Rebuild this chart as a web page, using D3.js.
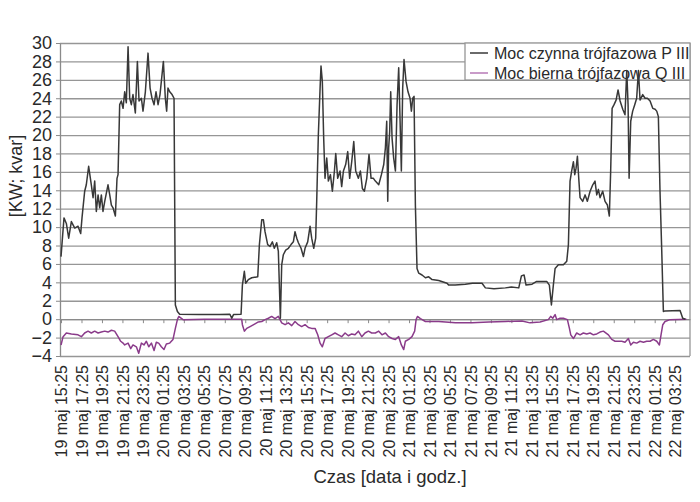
<!DOCTYPE html>
<html>
<head>
<meta charset="utf-8">
<script src="https://cdn.jsdelivr.net/npm/d3@7"></script>
<style>
  body { margin: 0; background: #fff; }
  svg { font-family: "Liberation Sans", Arial, sans-serif; }
</style>
</head>
<body>
<svg id="chart" width="700" height="502"></svg>
<script>
// hours since 19 maj 15:25
const hoursP = [0, 0.29, 0.52, 0.75, 1.01, 1.34, 1.66, 1.92, 2.05, 2.31, 2.47, 2.70, 2.96, 3.13, 3.29, 3.45, 3.62, 3.78, 3.94, 4.10, 4.27, 4.59, 4.76, 4.92, 5.08, 5.31, 5.47, 5.57,
  5.73, 5.89, 6.06, 6.22, 6.38, 6.55, 6.71, 6.87, 7.03, 7.26, 7.46, 7.62, 7.85, 8.01, 8.24, 8.50, 8.70, 8.89, 9.09, 9.28, 9.48, 9.67, 10.0, 10.19, 10.32, 10.45, 10.62, 10.85, 11.04,
  11.17, 11.37, 11.59, 13.5, 15.5, 16.5, 16.68, 16.85, 17.59, 17.72, 17.91, 18.04, 18.30, 18.63, 19.22, 19.38, 19.61, 19.77, 19.93, 20.19, 20.42, 20.65, 20.84, 21.07, 21.23,
  21.43, 21.56, 21.72, 21.95, 22.21, 22.47, 22.70, 22.86, 23.03, 23.19, 23.45, 23.68, 23.84, 24.10, 24.33, 24.49, 24.69, 24.88, 24.98, 25.14, 25.31, 25.40, 25.53, 25.66,
  25.79, 25.96, 26.12, 26.32, 26.51, 26.71, 26.84, 27.03, 27.26, 27.42, 27.59, 27.81, 28.01, 28.20, 28.40, 28.60, 28.79, 29.05, 29.25, 29.44, 29.64, 29.87, 30.09, 30.29,
  30.52, 30.71, 31.04, 31.30, 31.53, 31.69, 31.82, 31.92, 32.01, 32.11, 32.21, 32.34, 32.50, 32.67, 32.83, 32.99, 33.12, 33.25, 33.38, 33.51, 33.71, 33.90, 34.10, 34.23,
  34.36, 34.49, 34.62, 34.78, 34.95, 35.27, 35.60, 35.92, 36.25, 36.90, 37.71, 37.88, 38.5, 39.50, 40.2, 41.13, 41.46, 42.3, 43.41, 44.0, 44.72, 44.98, 45.24, 45.43, 46.02,
  46.47, 47.45, 47.71, 47.91, 48.10, 48.27, 48.59, 49.08, 49.41, 49.57, 49.73, 49.89, 50.06, 50.19, 50.32, 50.45, 50.58, 50.71, 50.97, 51.20, 51.42, 51.69, 51.95, 52.17,
  52.34, 52.50, 52.66, 52.92, 53.15, 53.38, 53.57, 53.70, 53.84, 54.03, 54.23, 54.42, 54.62, 54.88, 55.10, 55.27, 55.40, 55.50, 55.66, 55.85, 56.05, 56.24, 56.41, 56.57,
  56.83, 57.06, 57.29, 57.55, 57.81, 58.04, 58.20, 58.36, 58.52, 58.69, 58.85, 59.01, 60.48, 60.74, 61.0];
const valuesP = [6.8, 11.0, 10.4, 8.8, 10.6, 9.9, 10.1, 9.3, 11.0, 13.9, 14.6, 16.6, 14.6, 13.2, 15.0, 11.7, 13.5, 12.1, 13.5, 11.7, 12.8, 14.6, 13.5, 12.4, 12.1, 11.2, 15.3, 15.7,
  23.3, 23.7, 22.9, 24.7, 23.5, 29.6, 24.0, 23.3, 24.4, 22.4, 28.0, 23.7, 24.0, 22.6, 24.7, 28.9, 25.1, 24.0, 23.3, 24.7, 23.3, 24.4, 28.0, 24.0, 22.6, 25.1, 24.7, 24.4, 24.0,
  1.55, 0.84, 0.54, 0.52, 0.5, 0.54, 0.1, 0.5, 0.54, 3.7, 5.2, 3.9, 4.3, 4.5, 4.6, 8.1, 10.8, 10.8, 9.5, 8.1, 7.9, 8.4, 7.7, 8.3, 7.4,
  0.1, 5.9, 7.0, 7.5, 7.7, 8.1, 8.4, 9.5, 8.8, 8.3, 7.7, 6.8, 7.7, 8.4, 10.1, 8.8, 7.7, 8.8, 12.8, 20.0, 25.1, 27.5, 25.8, 19.7,
  15.3, 17.5, 15.0, 15.7, 13.9, 16.1, 18.0, 15.3, 16.1, 14.4, 16.1, 16.8, 18.2, 15.3, 17.1, 19.3, 16.1, 15.3, 16.1, 14.2, 13.9, 15.3, 17.9, 15.3,
  15.3, 15.0, 14.6, 15.7, 16.8, 18.6, 21.5, 12.8, 18.6, 20.4, 24.7, 19.7, 17.5, 16.1, 23.3, 27.3, 21.8, 16.1, 25.1, 28.2, 25.8, 24.7, 24.0, 22.6,
  24.0, 24.2, 12.4, 5.5, 5.0, 4.8, 4.5, 4.6, 4.3, 4.2, 3.9, 3.7, 3.7, 3.8, 3.9, 3.9, 3.4, 3.3, 3.4, 3.5, 3.4, 4.7, 4.8, 3.7, 3.8,
  4.1, 4.1, 3.7, 1.55, 3.7, 5.5, 5.9, 5.9, 6.3, 8.1, 15.0, 16.1, 17.1, 15.7, 16.4, 17.7, 15.3, 13.2, 12.8, 13.5, 12.8, 13.9, 14.6, 15.0,
  13.5, 14.1, 13.2, 13.9, 12.8, 12.4, 11.2, 16.1, 22.9, 23.3, 23.8, 24.9, 23.7, 22.8, 22.2, 27.0, 23.3, 15.3, 21.5, 22.6, 23.3, 24.0, 27.0, 23.8,
  24.4, 24.0, 24.0, 23.7, 22.9, 22.8, 22.6, 22.0, 13.9, 7.4, 0.84, 0.9, 0.95, 0.1, 0.0];

const hoursQ = [0, 0.20, 0.52, 1.01, 1.66, 1.99, 2.31, 2.64, 2.96, 3.29, 3.62, 3.94, 4.27, 4.59, 4.92, 5.24, 5.57, 5.83, 6.06, 6.22, 6.55, 6.81, 7.03, 7.36, 7.59, 7.85,
  8.11, 8.34, 8.57, 8.83, 9.09, 9.31, 9.54, 9.80, 10.06, 10.29, 10.62, 10.94, 11.17, 11.37, 11.50, 11.92, 14.0, 16.0, 17.65, 17.72, 17.91, 18.14, 18.47, 18.95, 19.28,
  19.61, 19.93, 20.26, 20.58, 20.91, 21.23, 21.56, 21.89, 22.21, 22.54, 22.86, 23.19, 23.51, 23.84, 24.17, 24.49, 24.82, 25.08, 25.31, 25.53, 25.79, 26.12, 26.45,
  26.77, 27.10, 27.42, 27.75, 28.07, 28.40, 28.72, 29.05, 29.38, 29.70, 30.03, 30.35, 30.71, 31.04, 31.36, 31.69, 32.01, 32.34, 32.67, 32.99, 33.25, 33.48, 33.64,
  33.97, 34.29, 34.55, 34.69, 34.82, 35.11, 35.60, 36.90, 38.53, 40.16, 41.79, 43.41, 45.04, 45.82, 46.80, 47.61, 47.84, 48.04, 48.27, 48.43, 48.75, 49.08, 49.47,
  49.67, 49.80, 50.06, 50.38, 50.71, 51.03, 51.36, 51.69, 52.01, 52.34, 52.66, 52.99, 53.48, 53.80, 54.13, 54.45, 54.78, 55.10, 55.43, 55.66, 55.92, 56.24, 56.57,
  56.90, 57.22, 57.55, 57.87, 58.20, 58.46, 58.62, 58.79, 59.01, 59.50, 61.1];
const valuesQ = [-2.8, -1.9, -1.5, -1.6, -1.7, -1.9, -1.5, -1.3, -1.5, -1.3, -1.5, -1.4, -1.3, -1.4, -1.2, -1.3, -1.9, -2.4, -2.6, -2.8, -2.6, -3.2, -2.8, -3.0, -3.7, -2.6,
  -2.8, -2.4, -3.0, -2.6, -3.4, -2.5, -2.6, -3.0, -3.3, -2.7, -2.6, -2.2, -1.0, -0.05, 0.3, -0.05, 0.0, 0.0, 0.0, -0.6, -1.3, -1.0, -0.8, -0.5, -0.3,
  -0.25, -0.05, 0.1, 0.3, 0.05, 0.3, -0.4, -0.6, -0.4, -0.7, -0.25, -0.6, -0.8, -0.6, -0.9, -1.0, -1.0, -1.7, -2.6, -3.0, -2.1, -1.9, -1.7,
  -1.5, -1.7, -1.9, -1.5, -1.8, -1.6, -1.7, -1.3, -1.9, -1.5, -1.3, -1.5, -1.5, -1.3, -1.7, -1.5, -1.9, -2.1, -2.2, -1.9, -2.8, -3.3, -2.4,
  -2.2, -1.9, -1.3, -0.05, 0.3, 0.05, -0.25, -0.25, -0.4, -0.4, -0.3, -0.25, -0.2, -0.4, -0.3, -0.05, 0.3, 0.1, 0.5, -0.05, 0.1, 0.1, -0.05,
  -1.0, -1.7, -2.1, -1.5, -1.7, -1.5, -1.6, -1.5, -1.7, -1.6, -1.4, -1.3, -1.7, -2.2, -2.4, -2.4, -2.4, -2.5, -2.1, -2.8, -2.5, -2.6, -2.4,
  -2.5, -2.4, -2.4, -2.2, -2.4, -2.8, -1.7, -0.6, -0.25, -0.05, 0.0];

const yTicks = [-4, -2, 0, 2, 4, 6, 8, 10, 12, 14, 16, 18, 20, 22, 24, 26, 28, 30];
const yTickLabels = ["\u22124", "\u22122", "0", "2", "4", "6", "8", "10", "12", "14", "16", "18", "20", "22", "24", "26", "28", "30"];
const xTicks = [0, 2, 4, 6, 8, 10, 12, 14, 16, 18, 20, 22, 24, 26, 28, 30, 32, 34, 36, 38, 40, 42, 44, 46, 48, 50, 52, 54, 56, 58, 60];
const xTickLabels = ["19 maj 15:25", "19 maj 17:25", "19 maj 19:25", "19 maj 21:25", "19 maj 23:25",
  "20 maj 01:25", "20 maj 03:25", "20 maj 05:25", "20 maj 07:25", "20 maj 09:25", "20 maj 11:25", "20 maj 13:25",
  "20 maj 15:25", "20 maj 17:25", "20 maj 19:25", "20 maj 21:25", "20 maj 23:25",
  "21 maj 01:25", "21 maj 03:25", "21 maj 05:25", "21 maj 07:25", "21 maj 09:25", "21 maj 11:25", "21 maj 13:25",
  "21 maj 15:25", "21 maj 17:25", "21 maj 19:25", "21 maj 21:25", "21 maj 23:25",
  "22 maj 01:25", "22 maj 03:25"];
const seriesNames = ["Moc czynna trójfazowa P III", "Moc bierna trójfazowa Q III"];
const seriesColors = ["#383838", "#8a3b8a"];

const margin = {top: 43, right: 10, bottom: 146, left: 60};
const width = 700 - margin.left - margin.right;
const height = 502 - margin.top - margin.bottom;

const svg = d3.select("#chart");
const g = svg.append("g").attr("transform", `translate(${margin.left},${margin.top})`);

const x = d3.scaleLinear().domain([-0.1, 61.45]).range([0, width]);
const y = d3.scaleLinear().domain([-4, 30]).range([height, 0]);

// horizontal grid
g.append("g")
  .call(d3.axisLeft(y).tickValues(yTicks).tickSize(-width).tickFormat(""))
  .call(s => s.select(".domain").remove())
  .call(s => s.selectAll("line").attr("stroke", "#969696").attr("stroke-width", 1.3));

// right border
g.append("line")
  .attr("x1", width).attr("x2", width).attr("y1", 0).attr("y2", height)
  .attr("stroke", "#969696").attr("stroke-width", 1.3);

// y axis with labels
g.append("g")
  .call(d3.axisLeft(y).tickValues(yTicks).tickSize(4).tickSizeOuter(0).tickPadding(4)
    .tickFormat((d, i) => yTickLabels[i]))
  .call(s => s.select(".domain").attr("stroke", "#8a8a8a").attr("stroke-width", 1.3))
  .call(s => s.selectAll("line").attr("stroke", "#8a8a8a"))
  .call(s => s.selectAll("text").attr("font-size", 18).attr("fill", "#2a2a2a"));

// zero axis with tick marks
g.append("g")
  .attr("transform", `translate(0,${y(0)})`)
  .call(d3.axisBottom(x).tickValues(xTicks).tickSize(4).tickSizeOuter(0).tickFormat(""))
  .call(s => s.select(".domain").attr("stroke", "#8a8a8a").attr("stroke-width", 1.3))
  .call(s => s.selectAll("line").attr("stroke", "#8a8a8a"));

// x labels at the bottom
g.append("g")
  .attr("transform", `translate(0,${height})`)
  .call(d3.axisBottom(x).tickValues(xTicks).tickSize(0).tickFormat((d, i) => xTickLabels[i]))
  .call(s => s.select(".domain").remove())
  .call(s => s.selectAll("text")
    .attr("transform", "rotate(-90)")
    .attr("x", -9).attr("y", 0).attr("dy", "0.35em")
    .style("text-anchor", "end")
    .attr("font-size", 16).attr("fill", "#2a2a2a"));

// axis titles
svg.append("text")
  .attr("x", 390).attr("y", 483)
  .attr("text-anchor", "middle")
  .attr("font-size", 18.5).attr("fill", "#2a2a2a")
  .text("Czas [data i godz.]");

svg.append("text")
  .attr("transform", "translate(16,176) rotate(-90)")
  .attr("text-anchor", "middle").attr("dy", "0.35em")
  .attr("font-size", 18).attr("fill", "#2a2a2a")
  .text("[KW; kvar]");

// legend (lines are drawn over it)
const legend = g.append("g").attr("transform", `translate(${465 - margin.left},0)`);
legend.append("rect")
  .attr("width", width - (465 - margin.left)).attr("height", 37)
  .attr("fill", "#fff").attr("stroke", "#969696").attr("stroke-width", 1.3);
seriesNames.forEach((name, i) => {
  const row = legend.append("g").attr("transform", `translate(0,${10 + i * 20})`);
  row.append("line").attr("x1", 5).attr("x2", 23)
    .attr("stroke", i === 0 ? seriesColors[0] : "#b77ab7").attr("stroke-width", 1.5);
  row.append("text").attr("x", 29).attr("dy", "0.35em")
    .attr("font-size", 16).attr("fill", "#2a2a2a").text(name);
});

// series
const line = d3.line().x(d => x(d[0])).y(d => y(d[1]));
g.append("path")
  .datum(hoursQ.map((h, i) => [h, valuesQ[i]]))
  .attr("fill", "none").attr("stroke", seriesColors[1]).attr("stroke-width", 1.5)
  .attr("stroke-linejoin", "round")
  .attr("d", line);
g.append("path")
  .datum(hoursP.map((h, i) => [h, valuesP[i]]))
  .attr("fill", "none").attr("stroke", seriesColors[0]).attr("stroke-width", 1.5)
  .attr("stroke-linejoin", "round")
  .attr("d", line);
</script>
</body>
</html>
